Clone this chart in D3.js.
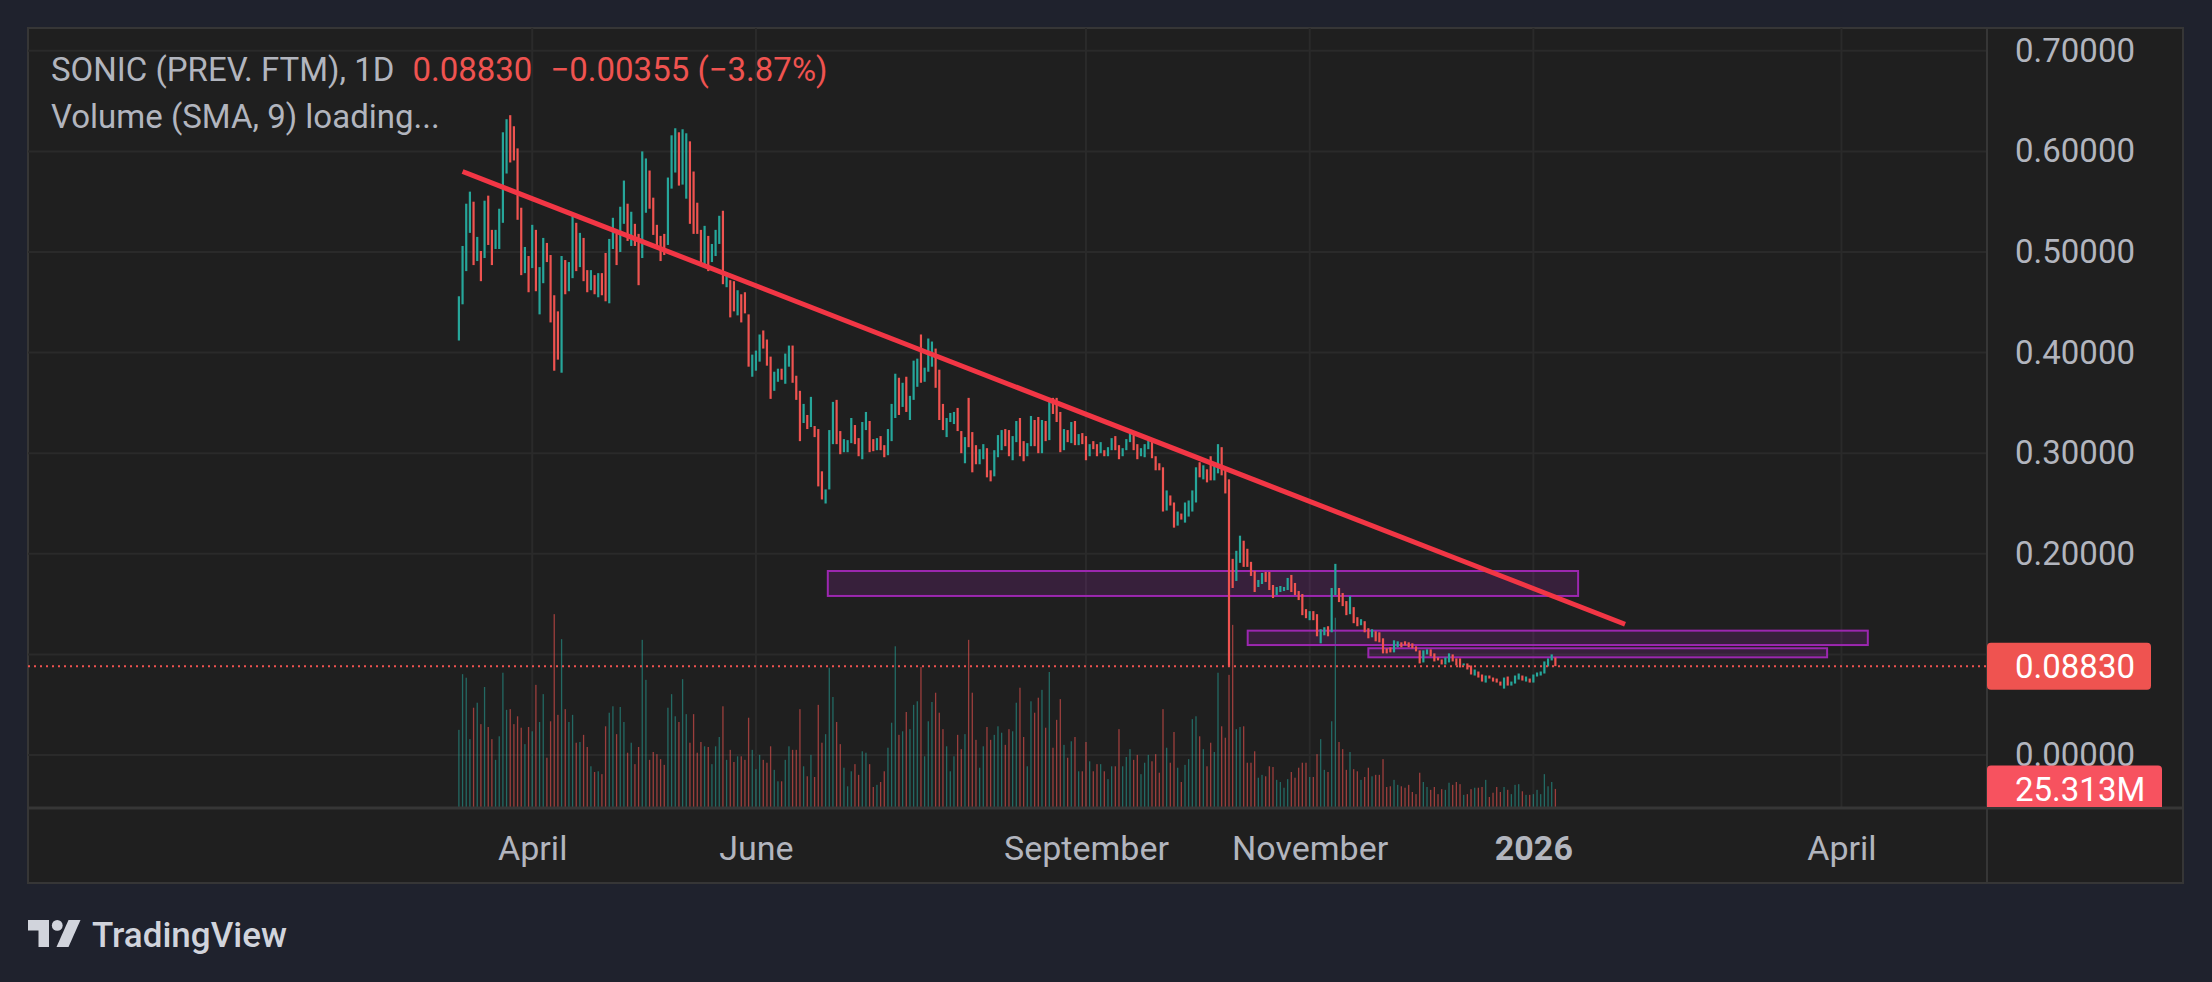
<!DOCTYPE html>
<html>
<head>
<meta charset="utf-8">
<script src="https://cdn.jsdelivr.net/npm/d3@7"></script>
<style>
    html, body { margin: 0; padding: 0; background: #1f222d; }
    svg { display: block; font-family: Roboto, "Noto Sans", sans-serif; }
</style>
</head>
<body>
<svg id="chart" width="2212" height="982"></svg>
<script>
// values (daily bars, oldest first)
const symbolName = 'SONIC (PREV. FTM), 1D';
const lastClose = 0.0883;
const lastChange = -0.00355;
const lastChangePct = -3.87;
const lastVolume = 25.313; // millions

// bar extents as drawn (top / bottom of each bar), U = rising bar, D = falling bar
const barHigh = [
    .456,.506,.548,.560,.550,.515,.501,.551,.556,.522, .522,.543,.619,.632,.636,.625,.603,.544,.505,.496,
    .527,.522,.485,.514,.509,.497,.457,.441,.496,.492, .490,.537,.529,.519,.514,.482,.482,.477,.479,.479,
    .499,.513,.534,.518,.545,.571,.548,.540,.528,.518, .600,.593,.581,.554,.527,.516,.518,.574,.616,.623,
    .619,.622,.618,.610,.580,.549,.522,.526,.516,.508, .522,.536,.541,.480,.472,.471,.462,.458,.460,.438,
    .398,.402,.418,.422,.413,.396,.381,.384,.384,.399, .407,.407,.377,.362,.349,.338,.356,.327,.324,.282,
    .264,.323,.351,.353,.322,.314,.313,.335,.328,.315, .331,.341,.332,.314,.315,.317,.308,.324,.349,.379,
    .375,.370,.376,.357,.392,.394,.418,.385,.414,.411, .404,.383,.349,.335,.340,.341,.345,.322,.316,.355,
    .321,.308,.304,.309,.305,.283,.303,.318,.323,.324, .323,.317,.332,.335,.312,.310,.337,.333,.336,.333,
    .332,.351,.355,.355,.341,.324,.323,.331,.332,.319, .320,.317,.309,.312,.309,.311,.303,.306,.315,.317,
    .308,.305,.314,.324,.321,.309,.305,.309,.314,.314, .297,.290,.286,.263,.258,.251,.242,.240,.251,.253,
    .263,.286,.291,.288,.284,.297,.289,.309,.306,.285, .274,.195,.203,.218,.213,.205,.192,.183,.174,.181,
    .182,.182,.169,.167,.168,.167,.176,.179,.171,.163, .160,.145,.143,.143,.140,.125,.127,.128,.166,.190,
    .166,.161,.153,.158,.147,.137,.135,.133,.126,.125, .123,.122,.116,.106,.107,.114,.113,.112,.113,.112,
    .111,.108,.104,.104,.105,.105,.101,.097,.095,.097, .101,.100,.096,.096,.091,.091,.089,.085,.083,.080,
    .079,.079,.077,.076,.073,.077,.078,.073,.079,.081, .079,.078,.076,.080,.082,.083,.093,.096,.100,.097
];
const barLow = [
    .412,.448,.481,.519,.487,.491,.471,.494,.507,.487, .503,.503,.529,.578,.589,.591,.532,.477,.479,.460,
    .484,.461,.438,.469,.490,.430,.382,.393,.380,.458, .461,.474,.481,.485,.471,.460,.462,.458,.455,.457,
    .451,.449,.503,.487,.500,.528,.511,.506,.506,.467, .494,.539,.543,.517,.503,.491,.497,.507,.563,.579,
    .566,.567,.553,.528,.518,.518,.488,.488,.481,.490, .496,.508,.468,.465,.435,.441,.437,.430,.439,.386,
    .376,.382,.391,.404,.387,.354,.362,.371,.373,.369, .386,.370,.353,.312,.330,.324,.326,.316,.267,.254,
    .250,.264,.309,.309,.299,.301,.301,.310,.309,.297, .294,.323,.301,.302,.303,.303,.296,.298,.312,.335,
    .338,.346,.341,.333,.353,.366,.370,.371,.381,.386, .365,.333,.323,.316,.331,.329,.322,.300,.290,.306,
    .281,.289,.289,.294,.276,.272,.277,.296,.303,.307, .297,.293,.311,.297,.292,.297,.307,.307,.300,.300,
    .312,.313,.339,.331,.301,.303,.311,.310,.308,.308, .309,.293,.297,.304,.297,.300,.297,.297,.303,.303,
    .294,.297,.303,.311,.303,.294,.297,.296,.304,.295, .283,.283,.242,.243,.248,.226,.228,.234,.231,.237,
    .242,.251,.276,.274,.271,.273,.273,.280,.278,.260, .088,.166,.173,.191,.187,.187,.178,.162,.167,.170,
    .172,.164,.156,.159,.162,.163,.164,.162,.159,.154, .139,.136,.134,.134,.118,.111,.119,.118,.122,.159,
    .152,.148,.139,.140,.131,.128,.129,.122,.116,.117, .113,.112,.101,.101,.102,.102,.107,.107,.109,.107,
    .106,.103,.091,.092,.100,.098,.093,.094,.090,.090, .092,.093,.089,.087,.089,.085,.080,.079,.077,.073,
    .072,.076,.073,.072,.069,.066,.069,.069,.071,.075, .074,.073,.072,.072,.078,.079,.081,.088,.094,.0883
];
const barDirection = (
    'UUUUDUDUDD' + 'UUUUDDDDUD' + 'UDUUDDDDUD' + 'UUDUDDUDUD' + 'DUUDUUDUDD' + 'UUDDDDDUUU' +
    'DUUDDDDUDU' + 'UUDUDDUDDD' + 'UUUDDDUUDU' + 'UDDDUDUDDD' + 'UUUDDUUUDD' + 'UUDDUDDUUU' +
    'DUDUUUDUUU' + 'DDDUUUDDUD' + 'DDUUDDUUUD' + 'DUUDDUUDDU' + 'DUDDDUDUDU' + 'DDUDDUDUUD' +
    'DUUUDDUUUD' + 'DDDUDDUDUU' + 'UUDUDDUUDD' + 'DDUUDDDDUU' + 'DDDUUUUDDD' + 'DDUDDUUDUU' +
    'DDDUDDUDDU' + 'DDDDDUUDDD' + 'DDDUUDDDDU' + 'UDDDUDDUDD' + 'UDDDDUDUUU' + 'DUDUUUUUUD'
).split('');
// volume in millions
const volumeM = [
    108,186,181,95,139,146,116,168,112,95, 66,99,188,136,137,116,127,111,88,112,
    106,171,119,158,69,120,270,129,235,137, 119,129,90,91,101,84,57,49,50,46,
    113,132,141,102,140,119,76,90,60,84, 234,178,66,77,74,67,59,139,158,127,
    119,179,130,90,130,76,91,85,84,60, 85,98,141,66,80,63,71,71,66,125,
    80,53,73,66,62,85,52,36,36,66, 85,80,80,137,57,43,73,42,143,90,
    102,195,154,119,88,55,29,50,60,45, 78,76,60,28,31,35,50,83,118,225,
    101,106,133,109,143,148,196,71,120,147, 160,132,109,85,50,71,101,81,102,234,
    160,94,55,85,112,94,101,113,104,87, 109,106,146,167,98,57,148,132,153,164,
    111,189,83,122,151,87,69,92,98,50, 50,91,64,50,60,60,50,39,57,57,
    109,57,70,81,66,73,46,62,73,64, 74,48,137,83,62,105,55,35,59,67,
    123,127,99,81,57,90,77,188,113,97, 185,255,109,112,113,62,62,78,41,45,
    43,57,56,38,35,27,39,49,41,55, 62,62,42,42,74,95,52,49,120,265,
    91,81,52,77,53,50,38,42,55,43, 45,45,67,28,29,38,31,29,27,31,
    21,18,48,35,28,24,28,18,25,24, 34,31,35,32,17,18,25,27,27,28,
    38,14,20,28,21,28,24,18,31,32, 22,17,17,18,24,18,46,29,35,25.313
];

const priceTicks = [0, 0.1, 0.2, 0.3, 0.4, 0.5, 0.6, 0.7];
const timeTickLabels = ['April', 'June', 'September', 'November', '2026', 'April'];
const timeTickBars = [20, 81, 171, 232, 293, 377];

// drawings: trend line (bar index, price) and three boxes
const trendFrom = [1, 0.580];
const trendTo = [318, 0.130];
const zoneStart = [100.6, 215.1, 248.0];
const zoneEnd = [305.2, 384.2, 373.1];
const zoneTop = [0.1829, 0.1236, 0.1061];
const zoneBottom = [0.1581, 0.1093, 0.0971];

const COLORS = {
    up: '#26a69a',
    down: '#ef5350',
    upVol: 'rgba(38,166,154,0.55)',
    downVol: 'rgba(239,83,80,0.6)',
    panel: '#1f1f1f',
    grid: '#2a2a2a',
    border: '#363636',
    text: '#b2b5be',
    trend: '#f23645',
    zone: '#9c27b0',
    priceTag: '#ef5350',
    volTag: '#f7525f'
};

const LAYOUT = {
    left: 28, top: 28, plotRight: 1987, right: 2183, plotBottom: 808, bottom: 883
};
const AXIS_FONT = 33;

const svg = d3.select('#chart');

const xBar = d3.scaleLinear().domain([-117.5, 416.7]).range([LAYOUT.left, LAYOUT.plotRight]);
const yPrice = d3.scaleLinear().domain([0, 0.7]).range([755, 50.8]);
const yVol = d3.scaleLinear().domain([0, 280]).range([807, 607]);

const bars = barHigh.map((h, i) => ({
    i: i, high: h, low: barLow[i], up: barDirection[i] === 'U', vol: volumeM[i]
}));

// panel
svg.append('rect')
    .attr('x', LAYOUT.left).attr('y', LAYOUT.top)
    .attr('width', LAYOUT.right - LAYOUT.left).attr('height', LAYOUT.bottom - LAYOUT.top)
    .attr('fill', COLORS.panel).attr('stroke', COLORS.border).attr('stroke-width', 2);

svg.append('defs').append('clipPath').attr('id', 'plot-clip')
    .append('rect')
    .attr('x', LAYOUT.left).attr('y', LAYOUT.top)
    .attr('width', LAYOUT.plotRight - LAYOUT.left).attr('height', LAYOUT.plotBottom - LAYOUT.top);

const plot = svg.append('g').attr('clip-path', 'url(#plot-clip)');

// grid
plot.append('g').selectAll('line')
    .data(priceTicks)
    .enter().append('line')
    .attr('x1', LAYOUT.left).attr('x2', LAYOUT.plotRight)
    .attr('y1', d => yPrice(d)).attr('y2', d => yPrice(d))
    .attr('stroke', COLORS.grid).attr('stroke-width', 2);

plot.append('g').selectAll('line')
    .data(timeTickBars)
    .enter().append('line')
    .attr('x1', d => xBar(d)).attr('x2', d => xBar(d))
    .attr('y1', LAYOUT.top).attr('y2', LAYOUT.plotBottom)
    .attr('stroke', COLORS.grid).attr('stroke-width', 2);

// volume
plot.append('g').selectAll('rect')
    .data(bars)
    .enter().append('rect')
    .attr('x', d => xBar(d.i) - 0.65)
    .attr('y', d => yVol(d.vol))
    .attr('width', 1.3)
    .attr('height', d => yVol(0) - yVol(d.vol))
    .attr('fill', d => d.up ? COLORS.upVol : COLORS.downVol);

// zones
const zones = zoneStart.map((s, k) => ({ s: s, e: zoneEnd[k], top: zoneTop[k], bottom: zoneBottom[k] }));
plot.append('g').selectAll('rect')
    .data(zones)
    .enter().append('rect')
    .attr('x', d => xBar(d.s))
    .attr('y', d => yPrice(d.top))
    .attr('width', d => xBar(d.e) - xBar(d.s))
    .attr('height', d => yPrice(d.bottom) - yPrice(d.top))
    .attr('fill', 'rgba(156,39,176,0.2)')
    .attr('stroke', COLORS.zone)
    .attr('stroke-width', 2);

// price bars
plot.append('g').selectAll('rect')
    .data(bars)
    .enter().append('rect')
    .attr('x', d => xBar(d.i) - 1.1)
    .attr('y', d => yPrice(d.high))
    .attr('width', 2.2)
    .attr('height', d => Math.max(1.5, yPrice(d.low) - yPrice(d.high)))
    .attr('fill', d => d.up ? COLORS.up : COLORS.down);

// last price line
plot.append('line')
    .attr('x1', LAYOUT.left).attr('x2', LAYOUT.plotRight)
    .attr('y1', yPrice(lastClose)).attr('y2', yPrice(lastClose))
    .attr('stroke', COLORS.priceTag).attr('stroke-width', 2)
    .attr('stroke-dasharray', '2 4');

// trend line
plot.append('line')
    .attr('x1', xBar(trendFrom[0])).attr('y1', yPrice(trendFrom[1]))
    .attr('x2', xBar(trendTo[0])).attr('y2', yPrice(trendTo[1]))
    .attr('stroke', COLORS.trend).attr('stroke-width', 5);

// separators
svg.append('line')
    .attr('x1', LAYOUT.plotRight).attr('x2', LAYOUT.plotRight)
    .attr('y1', LAYOUT.top).attr('y2', LAYOUT.bottom)
    .attr('stroke', COLORS.border).attr('stroke-width', 2);
svg.append('line')
    .attr('x1', LAYOUT.left).attr('x2', LAYOUT.right)
    .attr('y1', LAYOUT.plotBottom).attr('y2', LAYOUT.plotBottom)
    .attr('stroke', COLORS.border).attr('stroke-width', 3);

// price axis: labels that would sit under the last-price tag are hidden, as in the terminal
const tagY = yPrice(lastClose);
const labelledTicks = priceTicks.filter(p => Math.abs(yPrice(p) - tagY) > 40);
const priceAxis = svg.append('g')
    .attr('transform', `translate(${LAYOUT.plotRight},0)`)
    .call(d3.axisRight(yPrice).tickValues(labelledTicks).tickFormat(d3.format('.5f')).tickSize(0).tickPadding(28));
priceAxis.select('.domain').remove();
priceAxis.selectAll('text')
    .attr('fill', COLORS.text).attr('font-size', AXIS_FONT).attr('font-family', 'Roboto, sans-serif');

// time axis
const timeAxis = svg.append('g')
    .attr('transform', `translate(0,${LAYOUT.plotBottom})`)
    .call(d3.axisBottom(xBar).tickValues(timeTickBars).tickFormat((d, i) => timeTickLabels[i]).tickSize(0).tickPadding(28));
timeAxis.select('.domain').remove();
timeAxis.selectAll('text')
    .attr('fill', COLORS.text).attr('font-size', 34).attr('font-family', 'Roboto, sans-serif')
    .attr('font-weight', (d, i) => /^\d+$/.test(timeTickLabels[i]) ? 700 : 400);

// price tag
svg.append('rect')
    .attr('x', LAYOUT.plotRight).attr('y', tagY - 23.5)
    .attr('width', 164).attr('height', 47).attr('rx', 4)
    .attr('fill', COLORS.priceTag);
svg.append('text')
    .attr('x', LAYOUT.plotRight + 28).attr('y', tagY).attr('dy', '0.36em')
    .attr('fill', '#ffffff').attr('font-size', AXIS_FONT)
    .text(d3.format('.5f')(lastClose));

// volume tag (clipped by the pane bottom)
svg.append('clipPath').attr('id', 'axis-clip')
    .append('rect')
    .attr('x', LAYOUT.plotRight).attr('y', LAYOUT.top)
    .attr('width', LAYOUT.right - LAYOUT.plotRight).attr('height', LAYOUT.plotBottom - LAYOUT.top - 1);
const volTag = svg.append('g').attr('clip-path', 'url(#axis-clip)');
const volY = yVol(lastVolume);
volTag.append('rect')
    .attr('x', LAYOUT.plotRight).attr('y', volY - 23.5)
    .attr('width', 175).attr('height', 47).attr('rx', 4)
    .attr('fill', COLORS.volTag);
volTag.append('text')
    .attr('x', LAYOUT.plotRight + 28).attr('y', volY).attr('dy', '0.36em')
    .attr('fill', '#ffffff').attr('font-size', AXIS_FONT)
    .text(d3.format('.3f')(lastVolume) + 'M');

// legend
const legend = svg.append('text')
    .attr('x', 51).attr('y', 81)
    .attr('font-size', 33)
    .attr('fill', COLORS.text);
legend.append('tspan').text(symbolName);
legend.append('tspan').attr('dx', 18).attr('fill', COLORS.down).text(d3.format('.5f')(lastClose));
legend.append('tspan').attr('dx', 18).attr('fill', COLORS.down)
    .text(`${d3.format('.5f')(lastChange)} (${d3.format('.2f')(lastChangePct)}%)`);

svg.append('text')
    .attr('x', 51).attr('y', 128)
    .attr('font-size', 33)
    .attr('fill', COLORS.text)
    .text('Volume (SMA, 9) loading...');

// TradingView mark
const logo = svg.append('g').attr('transform', 'translate(28,920) scale(1.5)').attr('fill', '#d1d4dc');
logo.append('path').attr('d', 'M0 0 H14 V18 H7 V7 H0 Z');
logo.append('circle').attr('cx', 19.5).attr('cy', 3.6).attr('r', 3.6);
logo.append('path').attr('d', 'M27 0 H35 L27 18 H19 Z');
svg.append('text')
    .attr('x', 92).attr('y', 947)
    .attr('font-size', 35)
    .attr('font-weight', 500)
    .attr('fill', '#d1d4dc')
    .text('TradingView');
</script>
</body>
</html>
